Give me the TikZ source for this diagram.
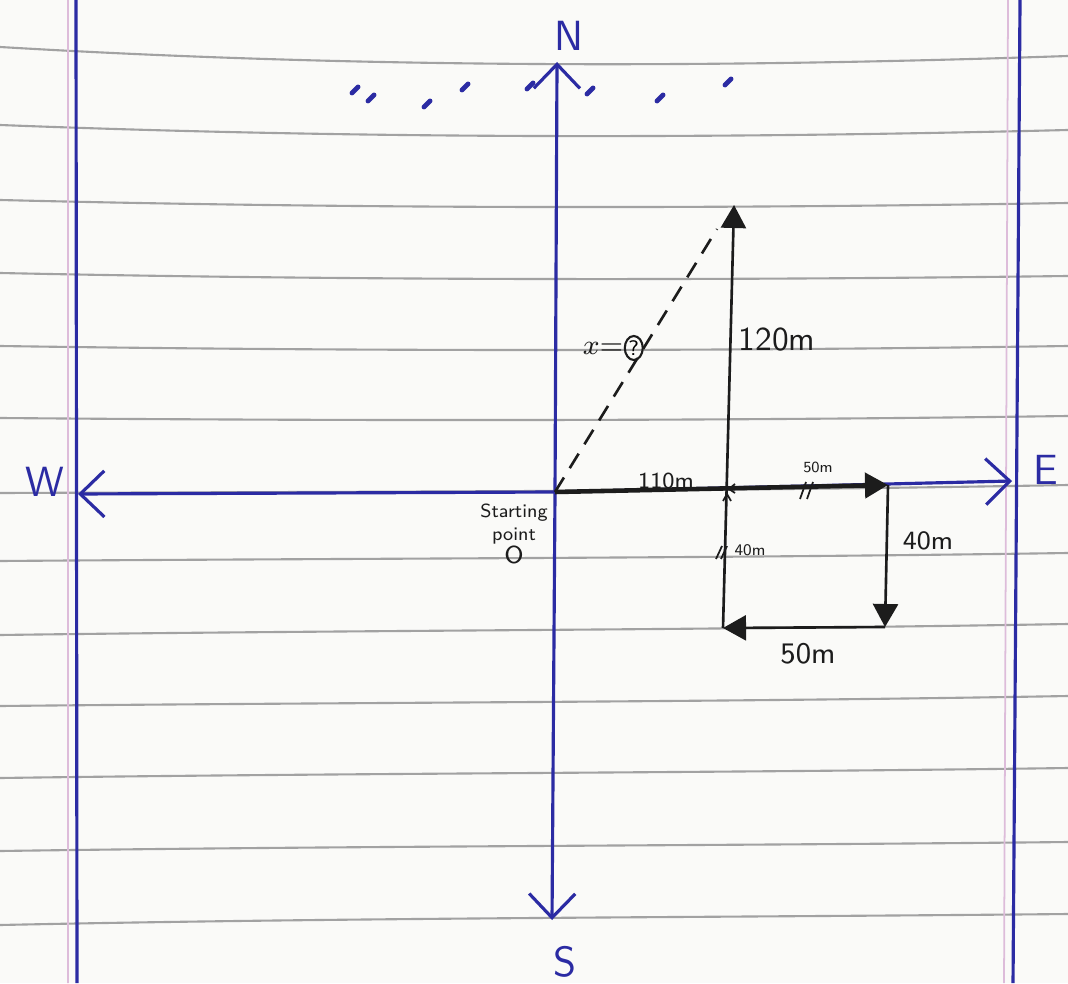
\documentclass[tikz,border=0pt]{standalone}
\usepackage{amsmath}
\usetikzlibrary{arrows.meta,positioning,calc,shapes.geometric}
\definecolor{Ink}{HTML}{2B2BA3}
\definecolor{Pen}{HTML}{1C1C1C}
\definecolor{Rule}{HTML}{A2A2A2}
\definecolor{Margin}{HTML}{DDBCDA}
\definecolor{Paper}{HTML}{FAFAF8}

\begin{document}
\begin{tikzpicture}[
  x=0.01cm,y=-0.01cm,
  axis/.style={draw=Ink,line width=.9pt,
    -{Straight Barb[length=2.4mm,width=4.6mm,line width=.9pt]}},
  walk/.style={draw=Pen,line width=.75pt,-{Triangle[length=2.3mm,width=2.5mm]}},
  hyp/.style={draw=Pen,line width=.75pt,dash pattern=on 1.7mm off 1.1mm},
  tick/.style={draw=Pen,line width=.5pt},
  compass/.style={text=Ink,inner sep=0pt,font=\sffamily\fontsize{12}{13}\selectfont},
  pathlab/.style={text=Pen,inner sep=1pt,font=\sffamily}
]
\fill[Paper] (0,0) rectangle (1068,983);
\useasboundingbox (0,0) rectangle (1068,983);
% ruled lines of the page: left end / middle / right end
\foreach \a/\m/\r in {47/64/56,125/136/130,200/207/203,273/279/276,346/350/346,
  418/420/416,493/491/485,561/558/553,635/630/624,706/702/696,778/773/768,
  851/846/842,925/918/914}{
  \pgfmathsetmacro{\c}{(8*\m-\a-\r)/6}
  \draw[Rule,line width=.6pt] (0,\a) .. controls (356,\c) and (712,\c) .. (1068,\r);
}
\draw[Margin,line width=.5pt] (68,0)--(68,983) (1008,0)--(1004,983);
\draw[Ink,line width=.9pt] (76,0)--(77,983) (1020,0)--(1013,983);
% ink specks under the N arrow
\foreach \px/\py in {355/90,371/98,427/104,465/87,530/86,590/91,660/98,728/82}
  \draw[Ink,line width=1.4pt,line cap=round] (\px-3,\py+3)--(\px+3,\py-3);

\coordinate (O) at (555,492);
\coordinate (Wtip) at (78,494);
\coordinate (Etip) at (1012,481);
\coordinate (Ntip) at (557,62);
\coordinate (Stip) at (552,920);
\draw[axis] (O)--(Wtip);
\draw[axis] (O)--(Etip);
\draw[axis] (O)--(Ntip);
\draw[axis] (O)--(Stip);
\node[compass] (N) at (569,36) {N};
\node[compass] (S) at (565,962) {S};
\node[compass] (W) at (45,482) {W};
\node[compass] (E) at (1046,470) {E};

% the walk
\coordinate (east) at (888,485);
\coordinate (south) at (885,627);
\coordinate (west) at (723,628);
\coordinate (north) at (734,205);
\coordinate (hypend) at (717,229);
\draw[walk,line width=1.3pt] (O)--(east);
\draw[walk] (east)--(south);
\draw[walk] (south)--(west);
\draw[walk] (west)--(north);
\draw[hyp] (O)--(hypend);

% dimension marks
\draw[tick] (735,484)--(729,489)--(735,493);
\draw[tick] (723,501)--(727,494)--(731,501);
\draw[tick] (800,499)--(806,482) (807,499)--(813,482);
\draw[tick] (716,559)--(722,546) (721,559)--(727,546);

\node[pathlab,font=\sffamily\fontsize{6.5}{7}\selectfont] (lab110) at (666,481) {110m};
\node[pathlab,font=\sffamily\fontsize{4.4}{5}\selectfont] (lab50a) at (818,467) {50m};
\node[pathlab,font=\sffamily\fontsize{7.5}{8}\selectfont] (lab40a) at (928,541) {40m};
\node[pathlab,font=\sffamily\fontsize{8.5}{9}\selectfont] (lab50b) at (808,654) {50m};
\node[pathlab,font=\sffamily\fontsize{4.6}{5}\selectfont] (lab40b) at (750,550) {40m};
\node[pathlab,font=\sffamily\fontsize{9.5}{10}\selectfont] (lab120) at (777,340) {120m};
\node[pathlab,font=\fontsize{8}{9}\selectfont] (xlab) at (603,348) {$x{=}$};
\node[draw=Pen,ellipse,inner sep=.3pt,line width=.6pt,font=\sffamily\fontsize{6}{7}\selectfont,
  right=-1pt of xlab] (qmark) {?};
\node[pathlab,align=center,font=\sffamily\fontsize{5.4}{6.6}\selectfont] (start) at (514,534)
  {Starting\\point\\\fontsize{7}{7}\selectfont O};
\end{tikzpicture}
\end{document}
